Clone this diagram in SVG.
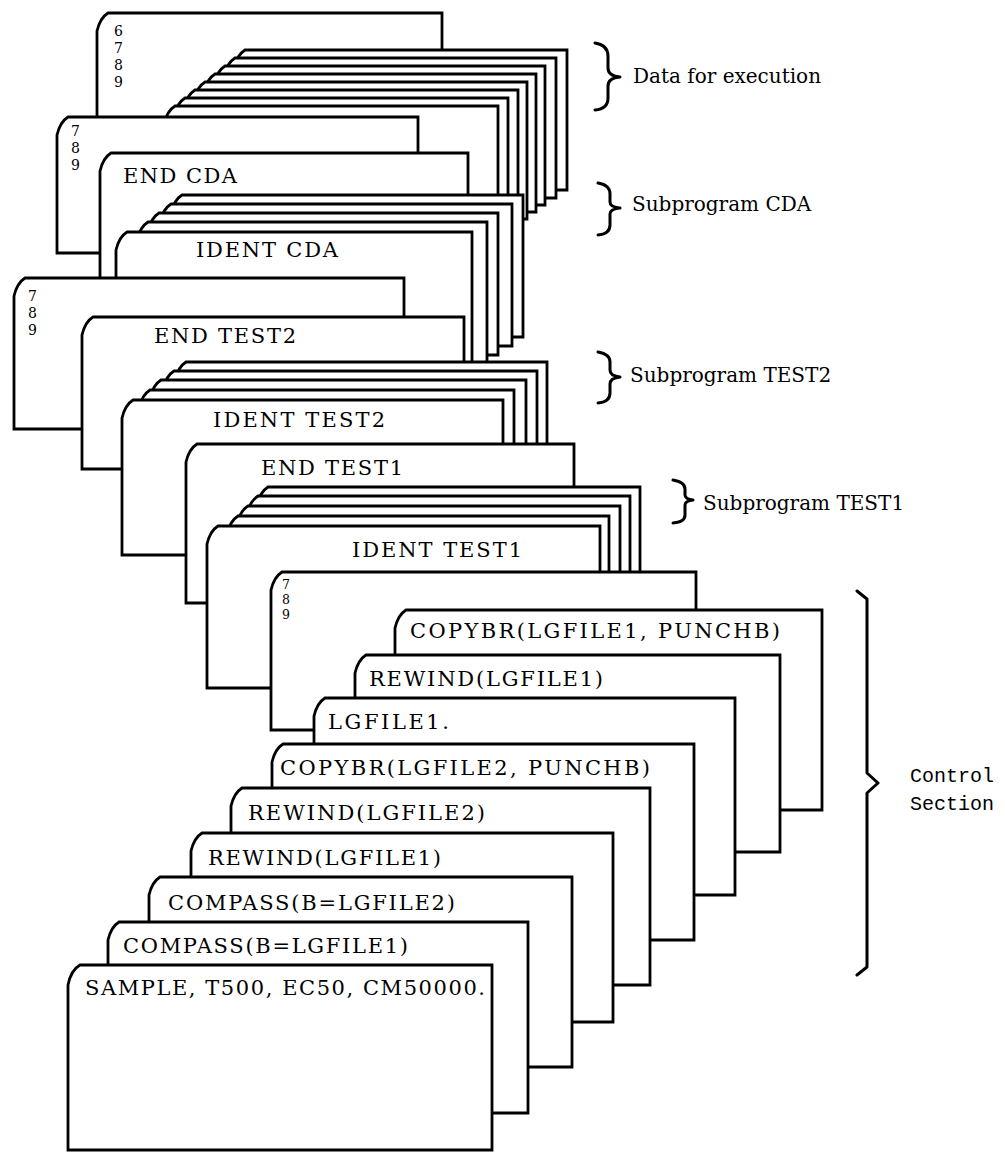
<svg xmlns="http://www.w3.org/2000/svg" width="1005" height="1154" viewBox="0 0 1005 1154">
<style>
.c{fill:#fff;stroke:#000;stroke-width:2.8;stroke-linejoin:miter}
.t{font-family:"DejaVu Serif","Liberation Serif",serif;font-size:21px;fill:#000}
.d{font-family:"DejaVu Serif","Liberation Serif",serif;font-size:14px;fill:#000}
.l{font-family:"DejaVu Serif","Liberation Serif",serif;font-size:20px;fill:#000}
.m{font-family:"Liberation Mono",monospace;font-size:20px;fill:#000}
.br{fill:none;stroke:#000;stroke-width:3;stroke-linejoin:round;stroke-linecap:round}
</style>
<rect width="1005" height="1154" fill="#fff"/>
<g id="data-execution">
<g id="card-eof"><path class="c" d="M97,130 V31 Q100,18 108,13 H442 V130 Z"/>
<text class="d" x="114" y="36">6<tspan x="114" dy="17">7</tspan><tspan x="114" dy="17">8</tspan><tspan x="114" dy="17">9</tspan></text></g>
<path id="data1" class="c" d="M234,190 V68 Q237,55 245,50 H567 V190 Z"/>
<path id="data2" class="c" d="M224,198 V76 Q227,63 235,58 H556 V198 Z"/>
<path id="data3" class="c" d="M214,205 V84 Q217,71 225,66 H545 V205 Z"/>
<path id="data4" class="c" d="M204,212 V92 Q207,79 215,74 H536 V212 Z"/>
<path id="data5" class="c" d="M194,219 V100 Q197,87 205,82 H527 V219 Z"/>
<path id="data6" class="c" d="M184,225 V108 Q187,95 195,90 H518 V225 Z"/>
<path id="data7" class="c" d="M174,225 V116 Q177,103 185,98 H508 V225 Z"/>
<path id="data8" class="c" d="M164,225 V124 Q167,111 175,106 H498 V225 Z"/>
</g>
<g id="sub-cda">
<g id="card-789a"><path class="c" d="M57,253 V135 Q60,122 68,117 H418 V253 Z"/>
<text class="d" x="71" y="136">7<tspan x="71" dy="17">8</tspan><tspan x="71" dy="17">9</tspan></text></g>
<g id="card-end-cda"><path class="c" d="M100,290 V171 Q103,158 111,153 H468 V290 Z"/>
<text class="t" x="123" y="183" textLength="114" lengthAdjust="spacing">END CDA</text></g>
<path id="cda1" class="c" d="M171,337 V213 Q174,200 182,195 H523 V337 Z"/>
<path id="cda2" class="c" d="M160,346 V222 Q163,209 171,204 H512 V346 Z"/>
<path id="cda3" class="c" d="M148,355 V231 Q151,218 159,213 H498 V355 Z"/>
<path id="cda4" class="c" d="M137,370 V240 Q140,227 148,222 H487 V370 Z"/>
<g id="card-ident-cda"><path class="c" d="M116,370 V250 Q119,237 127,232 H472 V370 Z"/>
<text class="t" x="196" y="257" textLength="142" lengthAdjust="spacing">IDENT CDA</text></g>
</g>
<g id="sub-test2">
<g id="card-789b"><path class="c" d="M14,429 V296 Q17,283 25,278 H404 V429 Z"/>
<text class="d" x="28" y="301">7<tspan x="28" dy="17">8</tspan><tspan x="28" dy="17">9</tspan></text></g>
<g id="card-end-test2"><path class="c" d="M82,469 V335 Q85,322 93,317 H464 V469 Z"/>
<text class="t" x="154" y="343" textLength="142" lengthAdjust="spacing">END TEST2</text></g>
<path id="t2a" class="c" d="M175,460 V380 Q178,367 186,362 H547 V460 Z"/>
<path id="t2b" class="c" d="M163,460 V389 Q166,376 174,371 H537 V460 Z"/>
<path id="t2c" class="c" d="M150,460 V398 Q153,385 161,380 H526 V460 Z"/>
<path id="t2d" class="c" d="M139,460 V408 Q142,395 150,390 H514 V460 Z"/>
<g id="card-ident-test2"><path class="c" d="M122,555 V418 Q125,405 133,400 H503 V555 Z"/>
<text class="t" x="213" y="427" textLength="172" lengthAdjust="spacing">IDENT TEST2</text></g>
</g>
<g id="sub-test1">
<g id="card-end-test1"><path class="c" d="M186,603 V462 Q189,449 197,444 H574 V603 Z"/>
<text class="t" x="261" y="475" textLength="142" lengthAdjust="spacing">END TEST1</text></g>
<path id="t1a" class="c" d="M257,590 V505 Q260,492 268,487 H640 V590 Z"/>
<path id="t1b" class="c" d="M247,590 V514 Q250,501 258,496 H630 V590 Z"/>
<path id="t1c" class="c" d="M237,590 V524 Q240,511 248,506 H620 V590 Z"/>
<path id="t1d" class="c" d="M227,590 V534 Q230,521 238,516 H609 V590 Z"/>
<g id="card-ident-test1"><path class="c" d="M207,688 V544 Q210,531 218,526 H600 V688 Z"/>
<text class="t" x="352" y="557" textLength="170" lengthAdjust="spacing">IDENT TEST1</text></g>
</g>
<g id="control">
<g id="card-789c"><path class="c" d="M271,730 V590 Q274,577 282,572 H696 V730 Z"/>
<text class="d" x="282" y="589" style="font-size:12.5px">7<tspan x="282" dy="15">8</tspan><tspan x="282" dy="15">9</tspan></text></g>
<g id="card-copybr1"><path class="c" d="M395,810 V628 Q398,615 406,610 H822 V810 Z"/>
<text class="t" x="410" y="638" textLength="370" lengthAdjust="spacing">COPYBR(LGFILE1, PUNCHB)</text></g>
<g id="card-rewind1a"><path class="c" d="M355,852 V673 Q358,660 366,655 H780 V852 Z"/>
<text class="t" x="369" y="686" textLength="234" lengthAdjust="spacing">REWIND(LGFILE1)</text></g>
<g id="card-lgfile1"><path class="c" d="M314,895 V716 Q317,703 325,698 H735 V895 Z"/>
<text class="t" x="328" y="729" textLength="121" lengthAdjust="spacing">LGFILE1.</text></g>
<g id="card-copybr2"><path class="c" d="M272,940 V762 Q275,749 283,744 H694 V940 Z"/>
<text class="t" x="280" y="775" textLength="370" lengthAdjust="spacing">COPYBR(LGFILE2, PUNCHB)</text></g>
<g id="card-rewind2"><path class="c" d="M231,985 V806 Q234,793 242,788 H650 V985 Z"/>
<text class="t" x="248" y="820" textLength="237" lengthAdjust="spacing">REWIND(LGFILE2)</text></g>
<g id="card-rewind1b"><path class="c" d="M191,1022 V851 Q194,838 202,833 H613 V1022 Z"/>
<text class="t" x="208" y="865" textLength="233" lengthAdjust="spacing">REWIND(LGFILE1)</text></g>
<g id="card-compass2"><path class="c" d="M149,1067 V895 Q152,882 160,877 H572 V1067 Z"/>
<text class="t" x="168" y="910" textLength="287" lengthAdjust="spacing">COMPASS(B=LGFILE2)</text></g>
<g id="card-compass1"><path class="c" d="M108,1113 V940 Q111,927 119,922 H528 V1113 Z"/>
<text class="t" x="123" y="953" textLength="285" lengthAdjust="spacing">COMPASS(B=LGFILE1)</text></g>
<g id="card-sample"><path class="c" d="M68,1150 V985 Q71,970 80,965 H492 V1150 Z"/>
<text class="t" x="85" y="995" textLength="400" lengthAdjust="spacing">SAMPLE, T500, EC50, CM50000.</text></g>
</g>
<g id="braces">
<path class="br" d="M595,43 Q608,45 608,56 V68 Q608,76 620,77 Q608,78 608,86 V98 Q608,109 595,110"/>
<path class="br" d="M598,183 Q610,185 610,194 V202 Q610,207 620,208 Q610,209 610,214 V225 Q610,234 598,235"/>
<path class="br" d="M598,352 Q610,354 610,362 V370 Q610,376 620,377 Q610,378 610,384 V393 Q610,402 598,403"/>
<path class="br" d="M673,480 Q685,482 685,489 V495 Q685,499 693,500 Q685,501 685,505 V515 Q685,522 673,523"/>
<path class="br" d="M857,591 L867,599 V773 L878,783 L867,793 V967 L857,975"/>
</g>
<g id="labels">
<text class="l" x="633" y="83">Data for execution</text>
<text class="l" x="632" y="211">Subprogram CDA</text>
<text class="l" x="630" y="382">Subprogram TEST2</text>
<text class="l" x="703" y="510">Subprogram TEST1</text>
<text class="m" x="910" y="782">Control<tspan x="910" dy="28">Section</tspan></text>
</g>
</svg>
